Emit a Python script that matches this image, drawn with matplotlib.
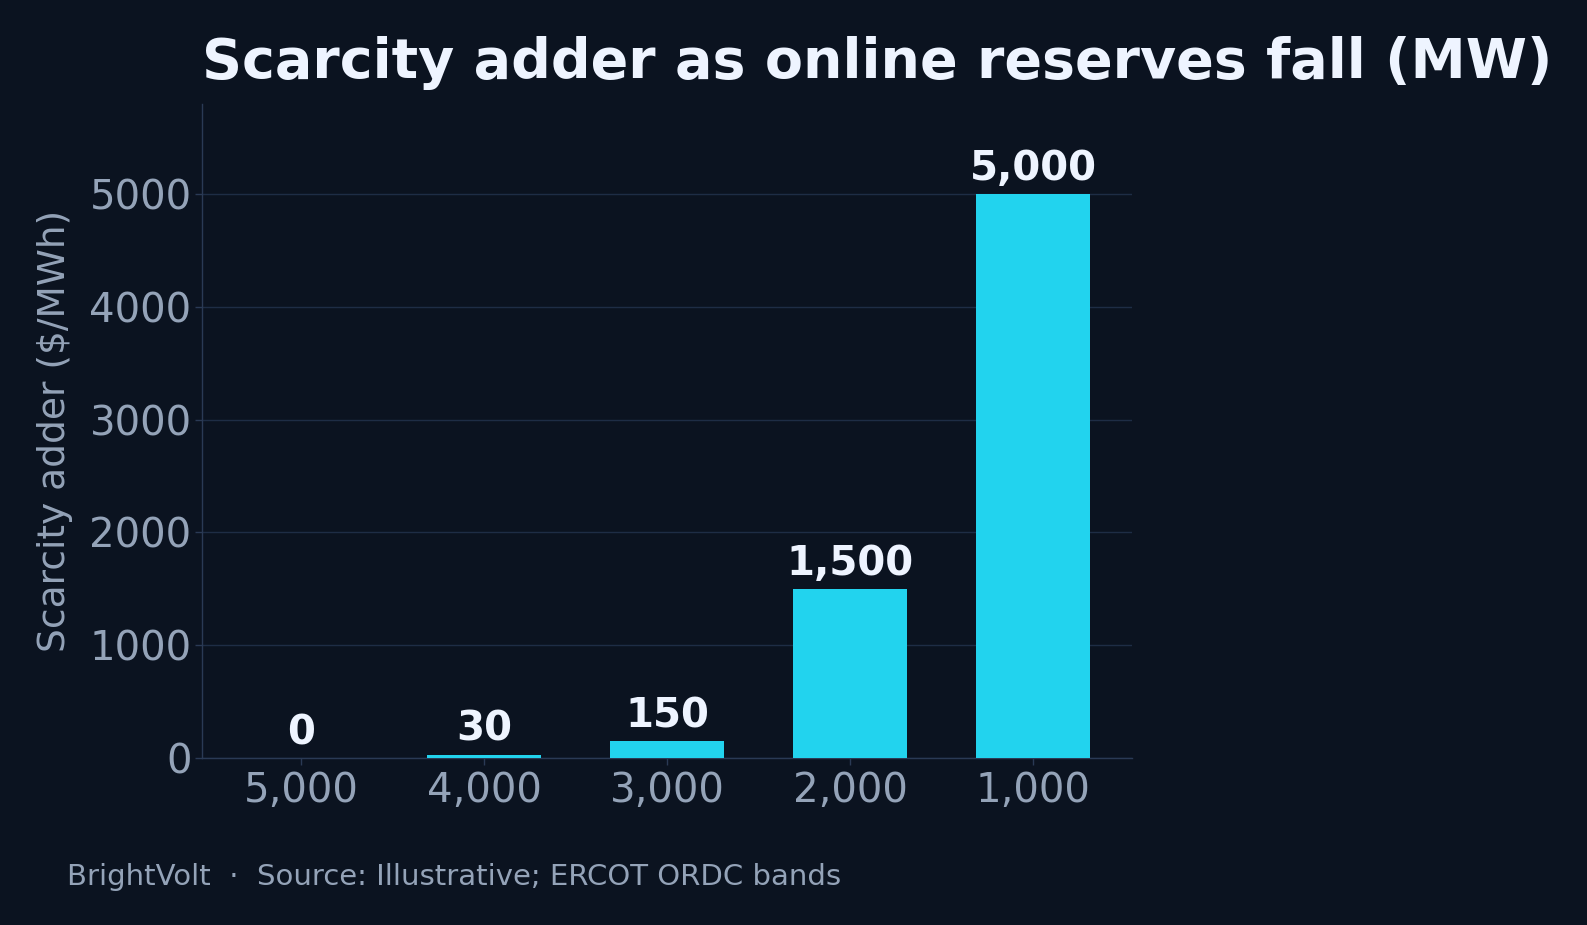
import matplotlib
matplotlib.use("Agg")
import matplotlib.pyplot as plt

# Data
reserves_labels = ["5,000", "4,000", "3,000", "2,000", "1,000"]
adder_values = [0, 30, 150, 1500, 5000]
y_ticks = [0, 1000, 2000, 3000, 4000, 5000]

title = "Scarcity adder as online reserves fall (MW)"
y_label = "Scarcity adder ($/MWh)"
footer = "BrightVolt  \u00b7  Source: Illustrative; ERCOT ORDC bands"

BG = "#0b1320"
BAR = "#22d3ee"
TITLE_C = "#eef4ff"
TICK_C = "#94a3b8"
GRID_C = "#1e2d45"
SPINE_C = "#2a3a55"

plt.rcParams["font.family"] = ["DejaVu Sans"]

fig = plt.figure(figsize=(15.87, 9.25), dpi=100, facecolor=BG)
ax = fig.add_axes([0.1273, 0.1805, 0.5860, 0.7071])
ax.set_facecolor(BG)

x = list(range(len(reserves_labels)))
ax.bar(x, adder_values, width=0.62, color=BAR, zorder=3)

ax.set_ylim(0, 5800)
ax.set_yticks(y_ticks)
ax.set_yticklabels([str(v) for v in y_ticks])
ax.set_xticks(x)
ax.set_xticklabels(reserves_labels)

ax.tick_params(axis="both", colors=SPINE_C, labelcolor=TICK_C, labelsize=29,
               length=5, width=1)
ax.tick_params(axis="x", pad=4)
ax.tick_params(axis="y", pad=2.5)

ax.grid(axis="y", color=GRID_C, linewidth=1, zorder=0)
ax.set_axisbelow(True)
for s in ["top", "right"]:
    ax.spines[s].set_visible(False)
for s in ["left", "bottom"]:
    ax.spines[s].set_color(SPINE_C)
    ax.spines[s].set_linewidth(1)

ax.set_ylabel(y_label, fontsize=27, color=TICK_C)
ax.yaxis.set_label_coords(-0.139, 0.5)

for xi, v in zip(x, adder_values):
    ax.annotate(f"{v:,}", xy=(xi, v), xytext=(0, 10), textcoords="offset points",
                ha="center", va="baseline", fontsize=29, fontweight="bold",
                color=TITLE_C, zorder=4)

fig.text(0.1275, 1 - 78 / 925, title, ha="left", va="baseline",
         fontsize=40, fontweight="bold", color=TITLE_C)
fig.text(67 / 1587, 1 - 885 / 925, footer, ha="left", va="baseline",
         fontsize=21, color=TICK_C)

fig.savefig("out.png", dpi=100, facecolor=BG)
